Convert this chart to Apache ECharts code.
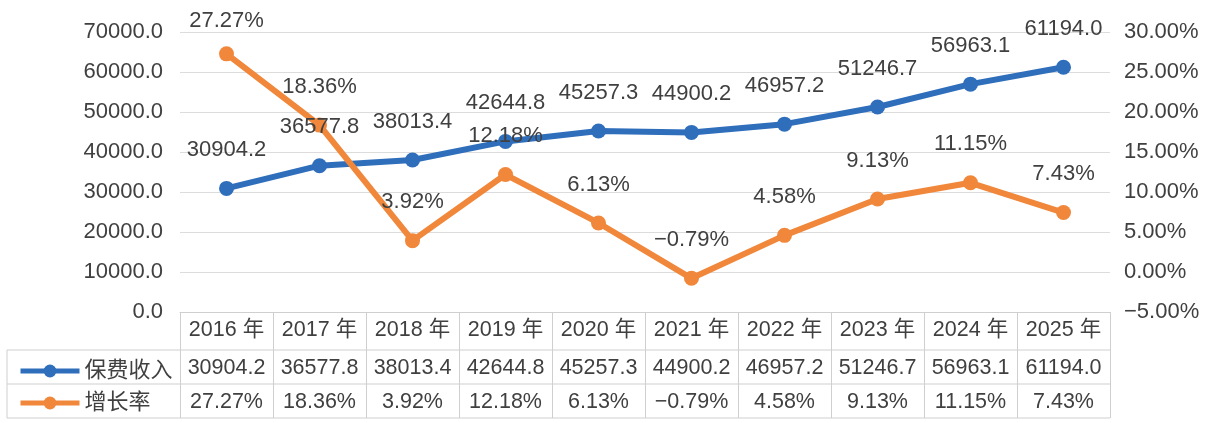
<!DOCTYPE html>
<html>
<head>
<meta charset="utf-8">
<script src="https://cdn.jsdelivr.net/npm/echarts@6/dist/echarts.min.js"></script>
<style>
	html, body { margin: 0; padding: 0; background: #fff; }
	#main { width: 1212px; height: 423px; }
</style>
</head>
<body>
<div id="main"></div>
<script>
	// 数据 -------------------------------------------
	var years = ['2016 年', '2017 年', '2018 年', '2019 年', '2020 年', '2021 年', '2022 年', '2023 年', '2024 年', '2025 年'];
	var income = [30904.2, 36577.8, 38013.4, 42644.8, 45257.3, 44900.2, 46957.2, 51246.7, 56963.1, 61194.0];
	var growth = [27.27, 18.36, 3.92, 12.18, 6.13, -0.79, 4.58, 9.13, 11.15, 7.43];
	var seriesNames = ['保费收入', '增长率'];

	var colors = ['#2F6EBB', '#F0873A'];
	var textColor = '#404040';
	var font = 'Liberation Sans, Arial, Noto Sans CJK SC, sans-serif';
	var gridColor = '#dcdcdc';
	var tableColor = '#cfcfcf';

	var fmtIncome = function(v) {
		return Number(v).toFixed(1);
	};
	var fmtRate = function(v) {
		var s = Number(v).toFixed(2) + '%';
		return s.replace('-', '\u2212');
	};

	// 表格行用 x 轴 -----------------------------------
	var tableAxis = function(offset, formatter) {
		return {
			type: 'category',
			position: 'bottom',
			offset: offset,
			data: years,
			axisLine: { show: false },
			axisTick: { show: false },
			axisLabel: {
				interval: 0,
				margin: 7,
				color: textColor,
				fontSize: 21.5,
				fontFamily: font,
				formatter: formatter
			}
		};
	};

	var hLine = function(x1, y, x2) {
		return { type: 'line', shape: { x1: x1, y1: y, x2: x2, y2: y }, style: { stroke: tableColor, lineWidth: 1 }, silent: true };
	};
	var vLine = function(x, y1, y2) {
		return { type: 'line', shape: { x1: x, y1: y1, x2: x, y2: y2 }, style: { stroke: tableColor, lineWidth: 1 }, silent: true };
	};

	var legendItem = function(name, top) {
		return {
			data: [name],
			left: 13,
			top: top,
			itemWidth: 59,
			itemHeight: 16,
			itemGap: 6,
			lineStyle: { width: 5 },
			textStyle: { color: textColor, fontSize: 22, fontFamily: font }
		};
	};

	// 第一个增长率标签靠近顶部, 距离略小
	var growthData = growth.map(function(v, i) {
		return i === 0 ? { value: v, label: { distance: 14 } } : v;
	});

	var option = {
		animation: false,
		color: colors,
		textStyle: { fontFamily: font },
		grid: {
			left: 180,
			right: 102,
			top: 32,
			bottom: 111,
			containLabel: false,
			outerBoundsMode: 'none'
		},
		legend: [
			legendItem(seriesNames[0], 355),
			legendItem(seriesNames[1], 387)
		],
		xAxis: [
			{
				type: 'category',
				position: 'bottom',
				data: years,
				axisLine: { show: true, lineStyle: { color: tableColor } },
				axisTick: { show: true, length: 106, inside: false, lineStyle: { color: tableColor } },
				axisLabel: { interval: 0, margin: 7, color: textColor, fontSize: 21.5, fontFamily: font }
			},
			tableAxis(38, function(v, i) { return fmtIncome(income[i]); }),
			tableAxis(72, function(v, i) { return fmtRate(growth[i]); })
		],
		yAxis: [
			{
				type: 'value',
				min: 0,
				max: 70000,
				interval: 10000,
				axisLine: { show: false },
				axisTick: { show: false },
				splitLine: { lineStyle: { color: gridColor } },
				axisLabel: { margin: 17, color: textColor, fontSize: 22, fontFamily: font, formatter: fmtIncome }
			},
			{
				type: 'value',
				min: -5,
				max: 30,
				interval: 5,
				axisLine: { show: false },
				axisTick: { show: false },
				splitLine: { show: false },
				axisLabel: { margin: 14, color: textColor, fontSize: 22, fontFamily: font, formatter: fmtRate }
			}
		],
		series: [
			{
				name: seriesNames[0],
				type: 'line',
				yAxisIndex: 0,
				data: income,
				symbol: 'circle',
				symbolSize: 15,
				lineStyle: { width: 6, color: colors[0] },
				itemStyle: { color: colors[0] },
				label: {
					show: true,
					position: 'top',
					distance: 20,
					color: textColor,
					fontSize: 22,
					fontFamily: font,
					formatter: function(p) { return fmtIncome(p.value); }
				}
			},
			{
				name: seriesNames[1],
				type: 'line',
				yAxisIndex: 1,
				data: growthData,
				symbol: 'circle',
				symbolSize: 15,
				lineStyle: { width: 6, color: colors[1] },
				itemStyle: { color: colors[1] },
				label: {
					show: true,
					position: 'top',
					distance: 20,
					color: textColor,
					fontSize: 22,
					fontFamily: font,
					formatter: function(p) { return fmtRate(p.value); }
				}
			}
		],
		graphic: [
			hLine(7, 350, 1110),
			hLine(7, 384, 1110),
			hLine(7, 418, 1110),
			vLine(7, 350, 418)
		]
	};

	var myChart = echarts.init(document.getElementById('main'));
	myChart.setOption(option);
</script>
</body>
</html>
